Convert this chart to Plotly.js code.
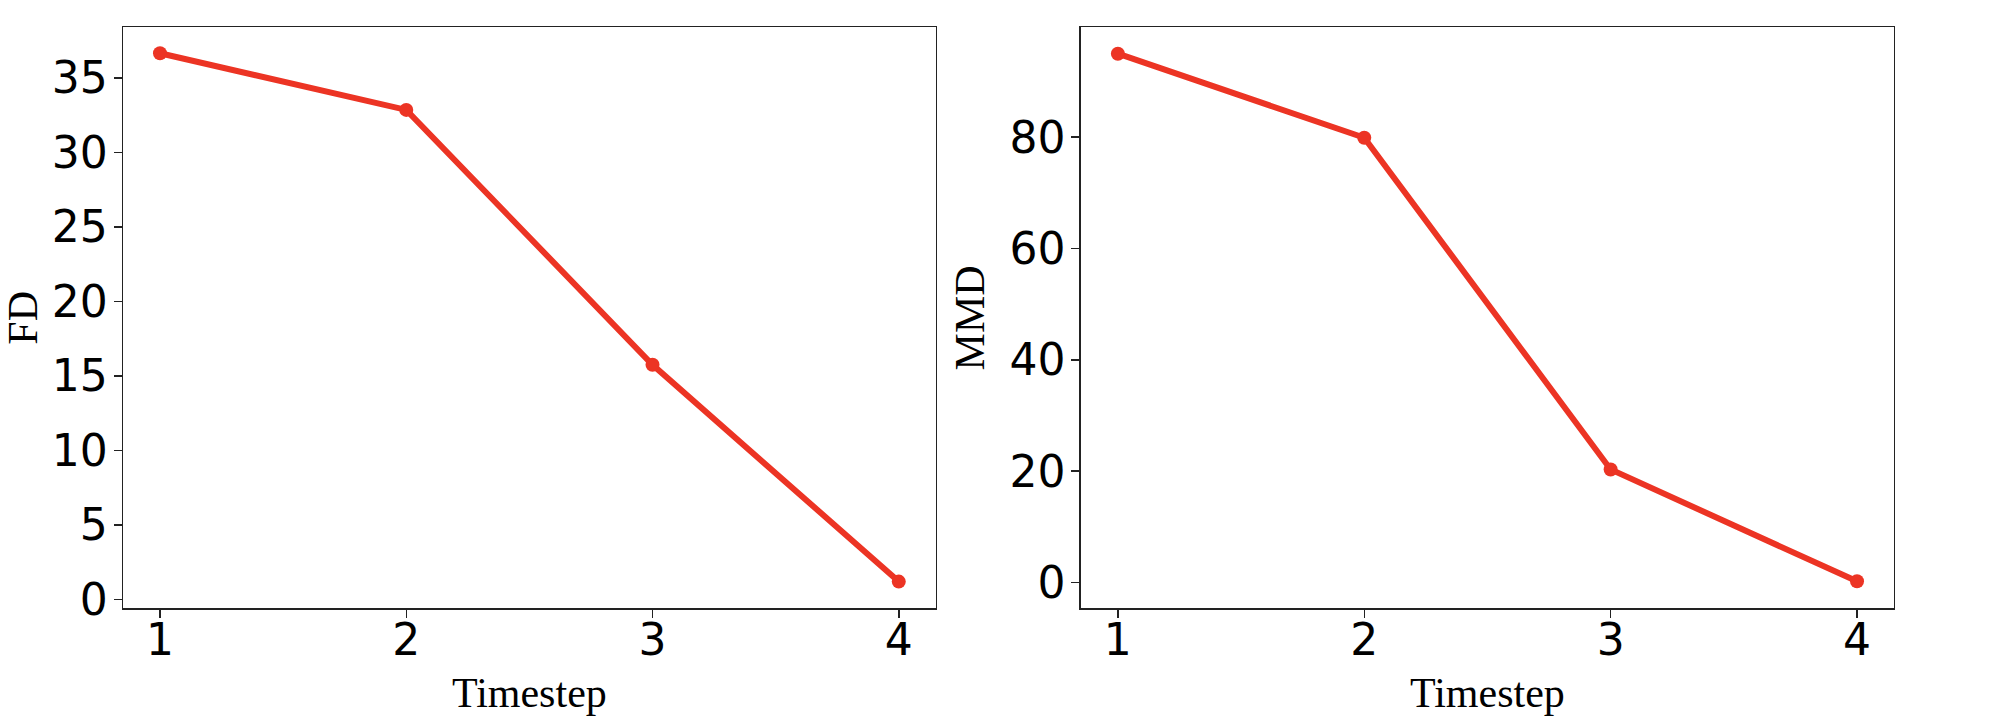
<!DOCTYPE html>
<html>
<head>
<meta charset="utf-8">
<script src="https://cdn.plot.ly/plotly-3.0.1.min.js"></script>
<style>
  html, body { margin: 0; padding: 0; background: #fff; }
  #chart { width: 2014px; height: 720px; }
</style>
</head>
<body>
<div id="chart"></div>
<script>
// values
const timesteps = [1, 2, 3, 4];
const fdValues = [36.65, 32.85, 15.75, 1.2];
const mmdValues = [95.0, 79.9, 20.3, 0.2];

const red = '#EC3424';
const tickFont = { family: 'DejaVu Sans', size: 44, color: '#000' };
const titleFont = { family: 'Liberation Serif', size: 42, color: '#000' };

function lineTrace(y, xa, ya) {
    return {
        x: timesteps,
        y: y,
        xaxis: xa,
        yaxis: ya,
        type: 'scatter',
        mode: 'lines+markers',
        line: { color: red, width: 6 },
        marker: { color: red, size: 14 },
        showlegend: false,
        hoverinfo: 'skip'
    };
}

function axisBase() {
    return {
        showline: true,
        mirror: true,
        linecolor: '#222',
        linewidth: 1.5,
        ticks: 'outside',
        ticklen: 8,
        tickwidth: 1.5,
        tickcolor: '#222',
        showgrid: false,
        zeroline: false,
        tickfont: tickFont,
        automargin: false
    };
}

const xLeft = Object.assign(axisBase(), {
    domain: [0.0611, 0.4646],
    range: [0.85, 4.15],
    tickvals: timesteps,
    ticklabelstandoff: -16,
    anchor: 'y',
    title: { text: 'Timestep', font: titleFont, standoff: 14 }
});
const xRight = Object.assign(axisBase(), {
    domain: [0.5367, 0.9404],
    range: [0.85, 4.15],
    tickvals: timesteps,
    ticklabelstandoff: -16,
    anchor: 'y2',
    title: { text: 'Timestep', font: titleFont, standoff: 14 }
});
const yLeft = Object.assign(axisBase(), {
    domain: [0.155, 0.962],
    range: [-0.6, 38.39],
    dtick: 5,
    tick0: 0,
    ticklabelstandoff: -3,
    anchor: 'x',
    title: { text: 'FD', font: titleFont, standoff: 12 }
});
const yRight = Object.assign(axisBase(), {
    domain: [0.155, 0.962],
    range: [-4.67, 99.73],
    dtick: 20,
    tick0: 0,
    ticklabelstandoff: -3,
    anchor: 'x2',
    title: { text: 'MMD', font: titleFont, standoff: 12 }
});

const layout = {
    width: 2014,
    height: 720,
    margin: { l: 0, r: 0, t: 0, b: 0 },
    paper_bgcolor: '#fff',
    plot_bgcolor: '#fff',
    xaxis: xLeft,
    yaxis: yLeft,
    xaxis2: xRight,
    yaxis2: yRight
};

Plotly.newPlot('chart', [lineTrace(fdValues, 'x', 'y'), lineTrace(mmdValues, 'x2', 'y2')], layout, { staticPlot: true });
</script>
</body>
</html>
